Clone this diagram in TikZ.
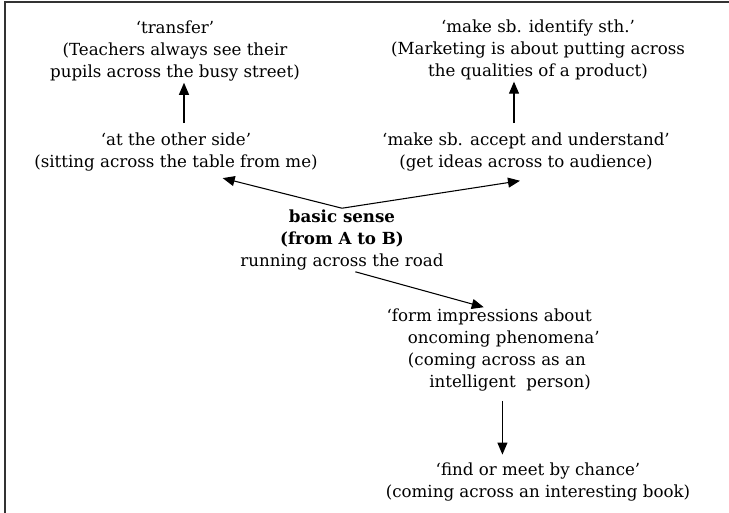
\documentclass[tikz,border=0pt]{standalone}
\usepackage{fontspec}
\setmainfont{DejaVu Serif}
\usepackage{tikz}
\usetikzlibrary{arrows.meta,positioning,calc}
\tikzset{
  sense/.style={align=center,inner sep=1pt,font=\fontsize{12.5}{16.5}\selectfont},
  core/.style={sense},
  arrow/.style={-{Triangle[length=9pt,width=7.5pt]},draw=black,line width=0.8pt},
  frameline/.style={draw=black!80,line width=1.2pt}
}
\begin{document}
\begin{tikzpicture}[x=0.75pt,y=-0.75pt]
  \useasboundingbox (0,0) rectangle (729,513);
  \draw[frameline] (5,513) -- (5,2) -- (729,2);
  % top row
  \node[sense] (transfer) at (175,51) {`transfer'\\(Teachers always see their\\pupils across the busy street)};
  \node[sense] (identify) at (538,50) {`make sb. identify sth.'\\(Marketing is about putting across\\the qualities of a product)};
  % second row
  \node[sense] (other) at (176,152) {`at the other side'\\(sitting across the table from me)};
  \node[sense] (accept) at (526,152) {`make sb. accept and understand'\\(get ideas across to audience)};
  % centre
  \node[core] (basic) at (342,240) {\textbf{basic sense}\\\textbf{(from A to B)}\\running across the road};
  % lower branch
  \node[sense,align=left,anchor=west] (form) at (385,350) {`form impressions about\\\hspace*{16pt}oncoming phenomena'\\\hspace*{16pt}(coming across as an\\\hspace*{32pt}intelligent\ \ person)};
  \node[sense] (find) at (538,482) {`find or meet by chance'\\(coming across an interesting book)};
  \draw[arrow] ([xshift=6pt,yshift=6pt]other.north) -- ([xshift=6pt]other.north |- transfer.south);
  \draw[arrow] ([xshift=-9pt,yshift=6pt]accept.north) -- ([xshift=-9pt]accept.north |- identify.south);
  \draw[arrow] (basic.north) -- ([xshift=35pt,yshift=-4pt]other.south);
  \draw[arrow] (basic.north) -- ([xshift=-4.5pt,yshift=-6pt]accept.south);
  \draw[arrow] ([xshift=10pt]basic.south) -- ([xshift=-7pt]form.north);
  \draw[arrow] ([xshift=7pt,yshift=-6pt]form.south) -- ([xshift=7pt,yshift=5pt]form.south |- find.north);
\end{tikzpicture}
\end{document}
